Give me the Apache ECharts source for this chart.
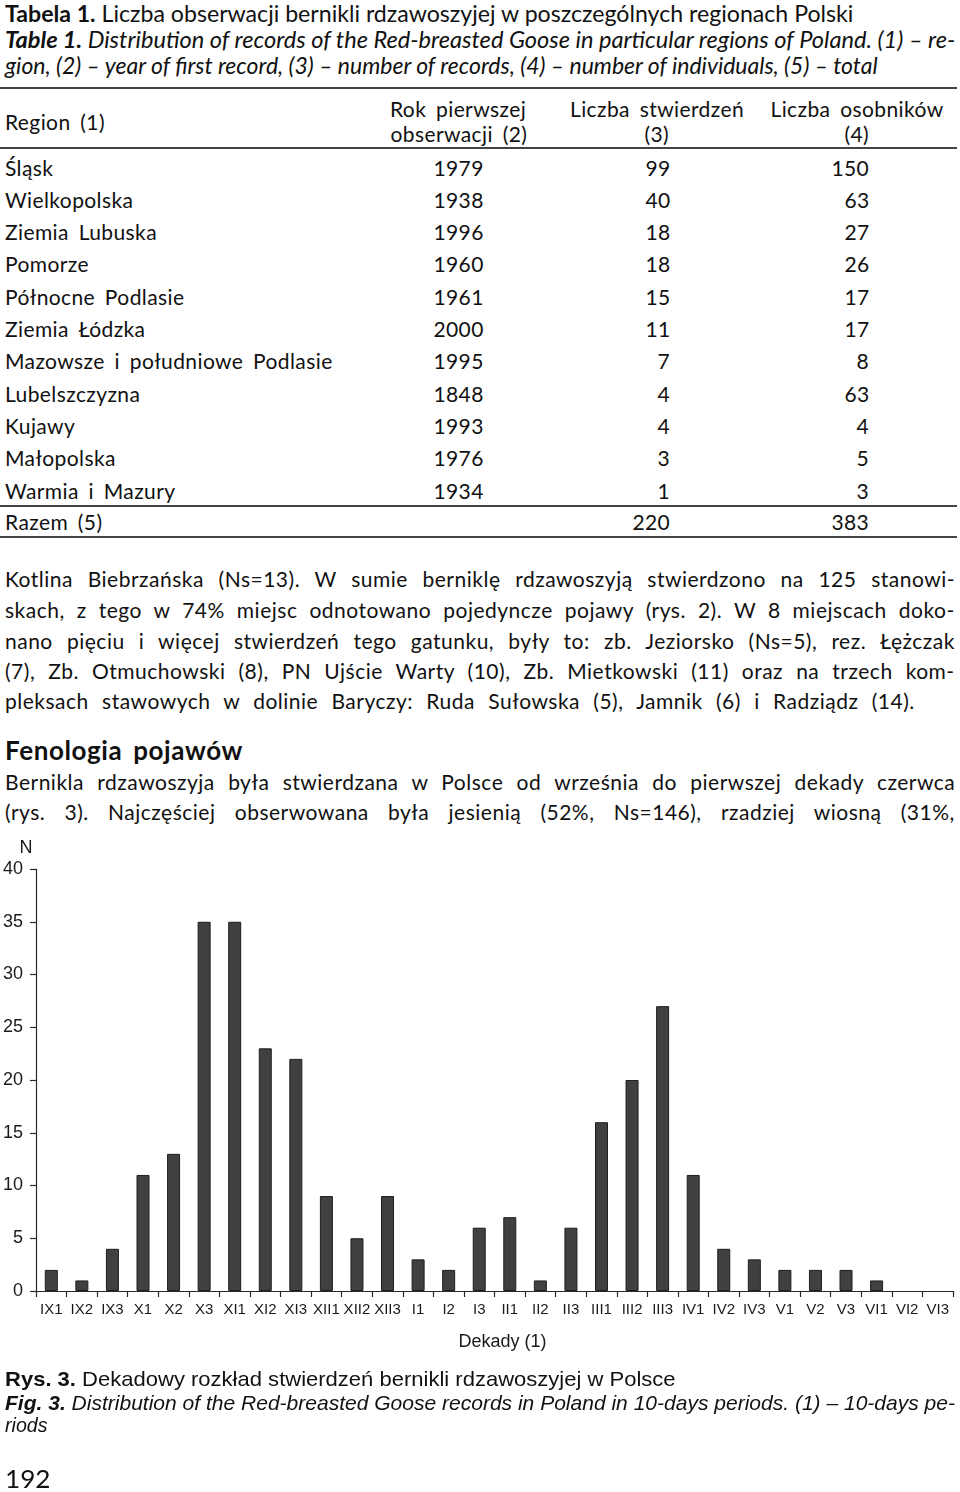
<!DOCTYPE html>
<html><head><meta charset="utf-8">
<script src="https://cdn.jsdelivr.net/npm/echarts@6.0.0/dist/echarts.min.js"></script>
<style>
html,body{margin:0;padding:0;background:#fff;}
#page{position:relative;width:960px;height:1492px;overflow:hidden;color:#111;}
.t{position:absolute;white-space:nowrap;transform-origin:0 50%;line-height:1;}
.rule{position:absolute;left:0;width:957px;height:1.5px;background:#444;}
#chart{position:absolute;left:0;top:830px;width:960px;height:540px;}
</style></head>
<body><div id="page"><div id="chart"></div></div>
<script>
// ---- Table data ----
const regions = ['Śląsk','Wielkopolska','Ziemia Lubuska','Pomorze','Północne Podlasie','Ziemia Łódzka','Mazowsze i południowe Podlasie','Lubelszczyzna','Kujawy','Małopolska','Warmia i Mazury'];
const firstYear = [1979,1938,1996,1960,1961,2000,1995,1848,1993,1976,1934];
const records = [99,40,18,18,15,11,7,4,4,3,1];
const individuals = [150,63,27,26,17,17,8,63,4,5,3];
const totalLabel = 'Razem (5)';
const totalRecords = 220;
const totalIndividuals = 383;
const headers = [['Region (1)'],['Rok pierwszej','obserwacji (2)'],['Liczba stwierdzeń','(3)'],['Liczba osobników','(4)']];

// ---- Chart data ----
const decades = ['IX1','IX2','IX3','X1','X2','X3','XI1','XI2','XI3','XII1','XII2','XII3','I1','I2','I3','II1','II2','II3','III1','III2','III3','IV1','IV2','IV3','V1','V2','V3','VI1','VI2','VI3'];
const counts = [2,1,4,11,13,35,35,23,22,9,5,9,3,2,6,7,1,6,16,20,27,11,4,3,2,2,2,1,0,0];
const yMin = 0, yMax = 40, yStep = 5;
const yName = 'N';
const xName = 'Dekady (1)';

const page = document.getElementById('page');
function place(html, o){
  const el = document.createElement('div');
  el.className = 't';
  el.innerHTML = html;
  el.style.fontFamily = o.f || 'Lato';
  el.style.fontSize = o.s + 'px';
  if (o.b) el.style.fontWeight = 'bold';
  if (o.i) el.style.fontStyle = 'italic';
  if (o.ls) el.style.letterSpacing = o.ls + 'px';
  if (o.ws) el.style.wordSpacing = o.ws + 'px';
  page.appendChild(el);
  const w = el.offsetWidth, h = el.offsetHeight;
  el.style.top = (o.y - h/2) + 'px';
  let left = o.x;
  if (o.a === 'right') left = o.x - w + (o.ls||0);
  else if (o.a === 'center') left = o.x - w/2;
  if (o.w) {
    if (o.j && w < o.w) {
      const n = (el.textContent.match(/ /g) || []).length;
      if (n) el.style.wordSpacing = ((o.ws||0) + (o.w - w)/n) + 'px';
    } else {
      el.style.transform = 'scaleX(' + (o.w / w) + ')';
    }
  }
  el.style.left = left + 'px';
  return el;
}
function rule(y){
  const d = document.createElement('div'); d.className='rule'; d.style.top = y+'px'; page.appendChild(d);
}

// Title
place('<b>Tabela 1.</b> Liczba obserwacji bernikli rdzawoszyjej w poszczególnych regionach Polski', {x:5,y:13,s:23,w:848});
place('<b>Table 1.</b> Distribution of records of the Red-breasted Goose in particular regions of Poland. (1) – re-', {x:5,y:39,s:23,i:true,w:950});
place('gion, (2) – year of first record, (3) – number of records, (4) – number of individuals, (5) – total', {x:5,y:65,s:23,i:true,w:873});

// Table
const TS = 21, TLS = 0.4, TWS = 4;
rule(87);
place(headers[0][0], {x:5,y:121,s:TS,ls:TLS,ws:TWS});
place(headers[1][0], {x:458,y:108,s:TS,ls:TLS,ws:TWS,a:'center'});
place(headers[1][1], {x:459,y:133,s:TS,ls:TLS,ws:TWS,a:'center'});
place(headers[2][0], {x:657,y:108,s:TS,ls:TLS,ws:TWS,a:'center'});
place(headers[2][1], {x:657,y:133,s:TS,ls:TLS,ws:TWS,a:'center'});
place(headers[3][0], {x:857,y:108,s:TS,ls:TLS,ws:TWS,a:'center'});
place(headers[3][1], {x:857,y:133,s:TS,ls:TLS,ws:TWS,a:'center'});
rule(147);

regions.forEach((r,i)=>{
  const y = 167 + i*32.3;
  place(r, {x:5,y:y,s:TS,ls:TLS,ws:TWS});
  place(String(firstYear[i]), {x:483,y:y,s:TS,ls:TLS,a:'right'});
  place(String(records[i]), {x:670,y:y,s:TS,ls:TLS,a:'right'});
  place(String(individuals[i]), {x:869,y:y,s:TS,ls:TLS,a:'right'});
});
rule(505);
place(totalLabel, {x:5,y:521,s:TS,ls:TLS,ws:TWS});
place(String(totalRecords), {x:670,y:521,s:TS,ls:TLS,a:'right'});
place(String(totalIndividuals), {x:869,y:521,s:TS,ls:TLS,a:'right'});
rule(536);

// Body text
const PS = 21, PLS = 0.5;
place('Kotlina Biebrzańska (Ns=13). W sumie berniklę rdzawoszyją stwierdzono na 125 stanowi-', {x:5,y:578,s:PS,ls:PLS,w:950,j:true});
place('skach, z tego w 74% miejsc odnotowano pojedyncze pojawy (rys. 2). W 8 miejscach doko-', {x:5,y:609,s:PS,ls:PLS,w:950,j:true});
place('nano pięciu i więcej stwierdzeń tego gatunku, były to: zb. Jeziorsko (Ns=5), rez. Łężczak', {x:5,y:640,s:PS,ls:PLS,w:950,j:true});
place('(7), Zb. Otmuchowski (8), PN Ujście Warty (10), Zb. Mietkowski (11) oraz na trzech kom-', {x:5,y:670,s:PS,ls:PLS,w:950,j:true});
place('pleksach stawowych w dolinie Baryczy: Ruda Sułowska (5), Jamnik (6) i Radziądz (14).', {x:5,y:700,s:PS,ls:PLS,w:910,j:true});
place('Fenologia pojawów', {x:5,y:750,s:26,b:true,ls:0.6,w:238,j:true});
place('Bernikla rdzawoszyja była stwierdzana w Polsce od września do pierwszej dekady czerwca', {x:5,y:781,s:PS,ls:PLS,w:950,j:true});
place('(rys. 3). Najczęściej obserwowana była jesienią (52%, Ns=146), rzadziej wiosną (31%,', {x:5,y:811,s:PS,ls:PLS,w:950,j:true});

// Caption
const CF = 'Liberation Sans';
place('<b>Rys. 3.</b> Dekadowy rozkład stwierdzeń bernikli rdzawoszyjej w Polsce', {x:5,y:1378,s:21,f:CF,w:671});
place('<b>Fig. 3.</b> Distribution of the Red-breasted Goose records in Poland in 10-days periods. (1) – 10-days pe-', {x:5,y:1402,s:21,f:CF,i:true,w:950});
place('riods', {x:5,y:1424,s:21,f:CF,i:true,w:43});
place('192', {x:5,y:1478,s:25,w:46});

// Chart
const chart = echarts.init(document.getElementById('chart'));
const axisCol = '#2a2a2a';
const barData = counts.map(v => v === 0 ? {value:v, itemStyle:{borderWidth:0, opacity:0}} : v);
chart.setOption({
  animation:false,
  textStyle:{fontFamily:'Liberation Sans'},
  grid:{left:36,right:7,top:39,bottom:79,containLabel:false},
  xAxis:{
    type:'category', data:decades, boundaryGap:true,
    axisLine:{show:true,lineStyle:{color:axisCol,width:1.2}},
    axisTick:{show:true,length:6,interval:0,lineStyle:{color:axisCol,width:1.2}},
    axisLabel:{interval:0,fontSize:15,color:'#1a1a1a',margin:11,fontFamily:'Liberation Sans'},
    name:xName, nameLocation:'middle', nameGap:42,
    nameTextStyle:{fontSize:18,color:'#1a1a1a',padding:[0,0,0,16]}
  },
  yAxis:{
    type:'value', min:yMin, max:yMax, interval:yStep,
    axisLine:{show:true,lineStyle:{color:axisCol,width:1.2}},
    axisTick:{show:true,length:6,lineStyle:{color:axisCol,width:1.2}},
    axisLabel:{fontSize:18,color:'#1a1a1a',margin:13,fontFamily:'Liberation Sans'},
    splitLine:{show:false},
    name:yName, nameLocation:'end', nameGap:12,
    nameTextStyle:{fontSize:18,color:'#1a1a1a',align:'center',padding:[0,20,0,0]}
  },
  series:[{
    type:'bar', data:barData, barWidth:13,
    itemStyle:{color:'#404040',borderColor:'#1e1e1e',borderWidth:1}
  }]
});
</script>
</body></html>
